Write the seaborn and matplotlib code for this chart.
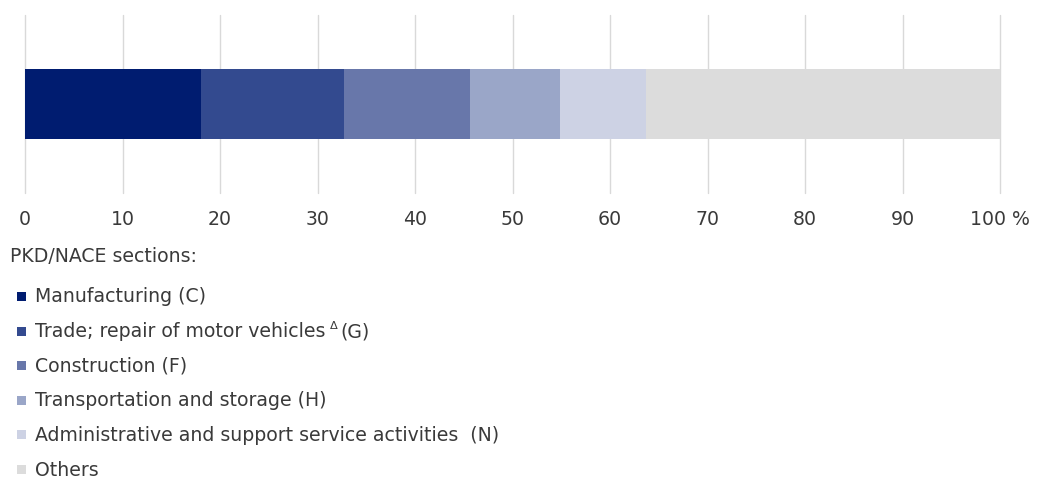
import matplotlib
matplotlib.use("Agg")
import matplotlib.pyplot as plt
from matplotlib.patches import Rectangle
import numpy as np
import pandas as pd
import seaborn as sns

# Data
categories = [
    "Manufacturing (C)",
    "Trade; repair of motor vehicles",
    "Construction (F)",
    "Transportation and storage (H)",
    "Administrative and support service activities  (N)",
    "Others",
]
category_suffix = ["", "(G)", "", "", "", ""]
shares = [18.1, 14.6, 12.9, 9.3, 8.8, 36.3]
colors = ["#001c70", "#334a8f", "#6877aa", "#9aa6c8", "#cdd2e4", "#dcdcdc"]
tick_values = [0, 10, 20, 30, 40, 50, 60, 70, 80, 90, 100]
tick_labels = ["0", "10", "20", "30", "40", "50", "60", "70", "80", "90", "100 %"]
legend_title = "PKD/NACE sections:"

sns.set_theme(style="white")
plt.rcParams["font.family"] = ["DejaVu Sans"]
text_color = "#3a3a3a"
fs = 13.6

fig = plt.figure(figsize=(10.44, 4.82), dpi=100)
W, H = 1044, 482
ax = fig.add_axes([25 / W, 1 - 193 / H, 975 / W, 178 / H])

df = pd.DataFrame({"section": categories, "share": shares, "color": colors})
df["cum"] = df["share"].cumsum()

# draw from the widest cumulative segment down so smaller ones overlay
for _, row in df.iloc[::-1].iterrows():
    sns.barplot(x=[row["cum"]], y=[0], orient="h", color=row["color"],
                width=0.39, ax=ax, saturation=1, linewidth=0, zorder=3)

ax.set_xlim(0, 100)
ax.set_ylim(0.5, -0.5)
ax.set_xticks(tick_values)
ax.set_xticklabels(tick_labels)
ax.set_yticks([])
ax.set_xlabel("")
ax.set_ylabel("")
ax.grid(axis="x", color="#d9d9d9", linewidth=1, zorder=0)
for gl in ax.get_xgridlines():
    gl.set_clip_on(False)
ax.set_axisbelow(True)
for s in ax.spines.values():
    s.set_visible(False)
ax.tick_params(axis="x", length=0, pad=12, labelsize=fs, labelcolor=text_color)

fig.text(10 / W, 1 - 257 / H, legend_title, fontsize=fs, color=text_color,
         va="center", ha="left")

renderer = fig.canvas.get_renderer()
y0 = 297
step = 34.6
for i, (lab, suf, c) in enumerate(zip(categories, category_suffix, colors)):
    yc = y0 + i * step
    fig.patches.append(Rectangle((17 / W, 1 - (yc + 4) / H), 9 / W, 9 / H,
                                 transform=fig.transFigure, facecolor=c,
                                 edgecolor="none"))
    t = fig.text(35 / W, 1 - yc / H, lab, fontsize=fs, color=text_color,
                 va="center", ha="left")
    if suf:
        bb = t.get_window_extent(renderer)
        x_end = bb.x1
        d = fig.text((x_end + 5) / W, 1 - (yc - 6) / H, "Δ", fontsize=fs * 0.6,
                     color=text_color, va="center", ha="left")
        bb2 = d.get_window_extent(renderer)
        fig.text((bb2.x1 + 2) / W, 1 - yc / H, suf, fontsize=fs,
                 color=text_color, va="center", ha="left")

fig.savefig("out.png", dpi=100)
